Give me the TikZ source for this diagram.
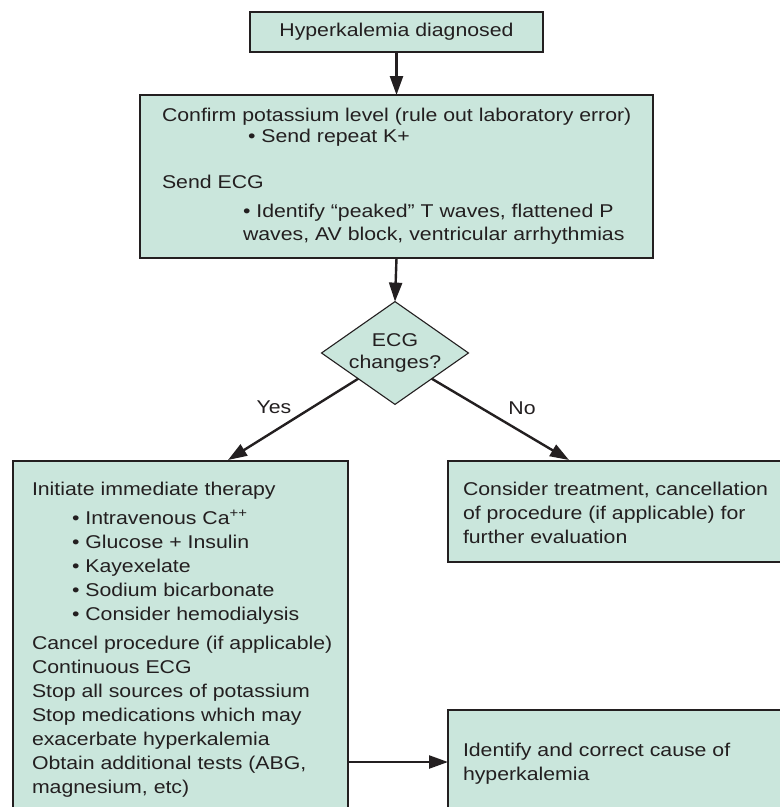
\documentclass[tikz,border=0pt]{standalone}
\usepackage{fontspec}
\setmainfont[FakeStretch=1.15]{Liberation Sans}
\usetikzlibrary{shapes.geometric,arrows.meta,shadows}
\definecolor{boxfill}{RGB}{202,230,220}
\definecolor{ink}{RGB}{35,31,32}
\begin{document}
\begin{tikzpicture}[x=1pt,y=-1pt,
  box/.style={draw=ink, line width=1.1pt, fill=boxfill, rectangle, inner sep=0pt, outer sep=0pt,
    drop shadow={shadow xshift=0.9pt, shadow yshift=-0.9pt, fill=black!35, opacity=1}},
  txt/.style={anchor=base west, inner sep=0pt, outer sep=0pt, text=ink},
  conn/.style={draw=ink, line width=2.4pt, -{Triangle[length=19pt,width=13pt]}},
  lbl/.style={text=ink, inner sep=0pt, align=center},
  font=\fontsize{18.5}{23.5}\selectfont]
\useasboundingbox[fill=white] (0,0) rectangle (780,807);

% top box
\node[box, minimum width=293pt, minimum height=40pt, text=ink] (top) at (396.5,32) {Hyperkalemia diagnosed};

% confirm box
\node[box, minimum width=513pt, minimum height=163pt] (confirm) at (396.5,176.5) {};
\node[txt] (c1) at (162,121) {Confirm potassium level (rule out laboratory error)};
\node[txt] (c2) at (248,142) {• Send repeat K+};
\node[txt] (c3) at (162,188) {Send ECG};
\node[txt] (c4) at (243,217) {• Identify “peaked” T waves, flattened P};
\node[txt] (c5) at (243,240) {waves, AV block, ventricular arrhythmias};

% decision
\node[diamond, draw=ink, line width=1.1pt, fill=boxfill, aspect=1.43, minimum width=146pt, minimum height=102pt,
      inner sep=0pt, outer sep=0pt, lbl] (dia) at (395,353) {ECG\\[-2pt]changes?};

% left box
\node[box, minimum width=335pt, minimum height=369pt] (left) at (180.5,645.5) {};
\node[txt] (l1) at (32,495) {Initiate immediate therapy};
\node[txt] (l2) at (72,524) {• Intravenous Ca\textsuperscript{++}};
\node[txt] (l3) at (72,548) {• Glucose + Insulin};
\node[txt] (l4) at (72,572) {• Kayexelate};
\node[txt] (l5) at (72,596) {• Sodium bicarbonate};
\node[txt] (l6) at (72,620) {• Consider hemodialysis};
\node[txt] (l7) at (32,649) {Cancel procedure (if applicable)};
\node[txt] (l8) at (32,673) {Continuous ECG};
\node[txt] (l9) at (32,697) {Stop all sources of potassium};
\node[txt] (l10) at (32,721) {Stop medications which may};
\node[txt] (l11) at (32,745) {exacerbate hyperkalemia};
\node[txt] (l12) at (32,769) {Obtain additional tests (ABG,};
\node[txt] (l13) at (32,793) {magnesium, etc)};

% right box
\node[box, minimum width=352pt, minimum height=101pt] (right) at (624,511.5) {};
\node[txt] (r1) at (463,495) {Consider treatment, cancellation};
\node[txt] (r2) at (463,519) {of procedure (if applicable) for};
\node[txt] (r3) at (463,543) {further evaluation};

% bottom right box
\node[box, minimum width=352pt, minimum height=120pt] (cause) at (624,770) {};
\node[txt] (b1) at (463,756) {Identify and correct cause of};
\node[txt] (b2) at (463,780) {hyperkalemia};

% connector ends
\coordinate (yesend) at (228,460);
\coordinate (noend) at (569,460);
\coordinate (lout) at (348,762);
\coordinate (cin) at (448,762);

% connectors
\draw[conn] (top.south) -- (confirm.north);
\draw[conn] (confirm.south) -- (dia.north);
\draw[conn] (dia.south west) -- (yesend);
\draw[conn] (dia.south east) -- (noend);
\draw[conn] (lout) -- (cin);

% labels
\node[lbl] (yes) at (274,407) {Yes};
\node[lbl] (no) at (522,408) {No};
\end{tikzpicture}
\end{document}
